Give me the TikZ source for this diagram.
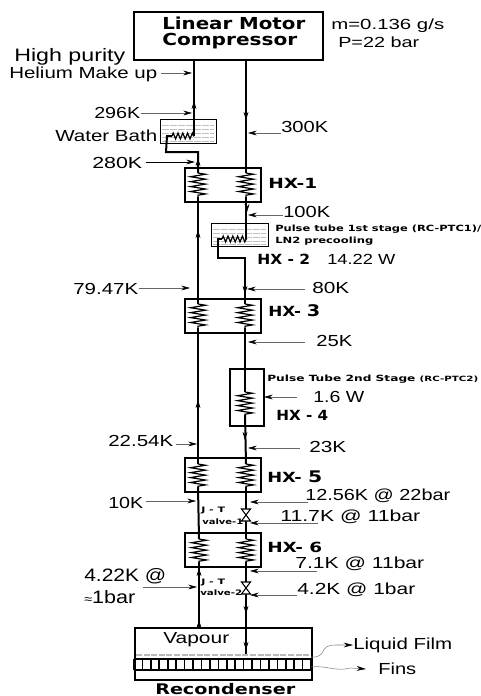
\documentclass[tikz,border=0pt]{standalone}
\usepackage{fontspec}
\setmainfont{Liberation Sans}
\newfontfamily\boldf{DejaVu Sans}[BoldFont={DejaVu Sans Bold}]
\usetikzlibrary{arrows.meta,decorations.pathmorphing,decorations.markings,calc}
\newdimen\pxu \pxu=0.75pt
\tikzset{
  x=0.75pt,y=-0.75pt,
  pipe/.style={line width=1.5pt,black},
  coilv/.style={line width=0.9pt,black,decorate,decoration={zigzag,segment length=3.7pt,amplitude=5.6pt}},
  coilh/.style={line width=0.9pt,black,decorate,decoration={zigzag,segment length=3.6pt,amplitude=2.2pt}},
  water/.style={gray!50,line width=0.6pt,dash pattern=on 5pt off 1pt},
  lbl/.style={gray!80!black,line width=0.4pt,-{Stealth[black,length=6.5pt,width=3.6pt]}},
  flow/.style={draw=none,postaction={decorate},decoration={markings,mark=at position #1 with {\arrow[black]{Stealth[length=6pt,width=3.6pt]}}}},
  txt/.style={inner sep=0pt,anchor=west,font=\fontsize{12}{13}\selectfont},
  big/.style={inner sep=0pt,anchor=west,font=\fontsize{13.5}{14}\selectfont},
  mid/.style={inner sep=0pt,anchor=west,font=\fontsize{11}{12}\selectfont},
  bold/.style={inner sep=0pt,anchor=west,font=\boldf\bfseries\fontsize{10.5}{11}\selectfont},
  head/.style={inner sep=0pt,anchor=west,font=\boldf\bfseries\fontsize{12.4}{13}\selectfont},
  tiny/.style={inner sep=0pt,anchor=west,font=\boldf\bfseries\fontsize{6.4}{7}\selectfont},
  jt/.style={inner sep=0pt,anchor=west,font=\boldf\bfseries\fontsize{5.6}{6}\selectfont},
  wavy/.style={gray,line width=0.4pt,-{Stealth[black,length=7pt,width=3.6pt]}},
  hx/.style={draw,line width=1.4pt,inner sep=0pt,minimum width=57pt,minimum height=25.5pt,anchor=north west}
}
% text of a given width in reference pixels
\newcommand{\fw}[2]{\resizebox{#1\pxu}{\height}{#2}}
\newcommand{\T}[6]{\node[#1] (#2) at (#3,#4) {\fw{#5}{#6}};}
\begin{document}
\begin{tikzpicture}
\useasboundingbox (0,0) rectangle (481,696);
% compressor
\node[draw,line width=1.4pt,inner sep=0pt,minimum width=141.75pt,minimum height=36pt,anchor=north west] (comp) at (133,11) {};
\T{head}{lm}{162}{23}{143}{Linear Motor}
\T{head}{cm}{162}{41}{135}{Compressor}
\T{mid}{mlab}{331}{26}{113}{m=0.136 g/s}
\T{mid}{plab}{338}{42}{81}{P=22 bar}
% boxes
\node[draw,line width=1.1pt,inner sep=0pt,minimum width=42pt,minimum height=18pt,anchor=north west] (bath) at (160,119) {};
\node[draw,line width=1.1pt,inner sep=0pt,minimum width=42.75pt,minimum height=17.25pt,anchor=north west] (tub) at (211,223) {};
\node[hx] (hx1) at (184,167) {};
\node[hx] (hx3) at (184,298) {};
\node[hx] (hx5) at (184,457) {};
\node[hx] (hx6) at (184,532) {};
\node[draw,line width=1.2pt,inner sep=0pt,minimum width=25.5pt,minimum height=42.75pt,anchor=north west] (hx4) at (229,368) {};
\node[draw,line width=1.2pt,inner sep=0pt,minimum width=132.75pt,minimum height=39pt,anchor=north west] (rec) at (134,627) {};
% water
\foreach \y in {125,129,133,137,141}{\draw[water] (162,\y) -- (214,\y);}
\foreach \y in {229,233,237,241,244}{\draw[water] (213,\y) -- (266,\y);}
% coordinates
\coordinate (lc1t) at (198,173); \coordinate (lc1b) at (198,197);
\coordinate (rc1t) at (246,173); \coordinate (rc1b) at (246,197);
\coordinate (lc3t) at (198,304); \coordinate (lc3b) at (198,328);
\coordinate (rc3t) at (245,304); \coordinate (rc3b) at (245,328);
\coordinate (c4t) at (245,392); \coordinate (c4b) at (245,415);
\coordinate (lc5t) at (198,464); \coordinate (lc5b) at (198,487);
\coordinate (rc5t) at (246,464); \coordinate (rc5b) at (246,487);
\coordinate (lc6t) at (199,539); \coordinate (lc6b) at (199,562);
\coordinate (rc6t) at (246,539); \coordinate (rc6b) at (246,562);
\coordinate (v1) at (246,515); \coordinate (v2) at (246,588);
% coils
\foreach \a/\b in {lc1t/lc1b,rc1t/rc1b,lc3t/lc3b,rc3t/rc3b,c4t/c4b,lc5t/lc5b,rc5t/rc5b,lc6t/lc6b,rc6t/rc6b}{\draw[coilv] (\a) -- (\b);}
\coordinate (wl) at (167,136); \coordinate (wr) at (194,136);
\draw[coilh] (172,136) -- (wr);
\coordinate (tl) at (218,239); \coordinate (tr) at (247,239);
\draw[coilh] (222,239) -- (tr);
% pipes
\draw[pipe] (wr) -- (194,59);
\draw[pipe] (172,136) -- (wl) -- (166,152) -- (198,152) -- (lc1t);
\draw[pipe] (246,59) -- (rc1t);
\draw[pipe] (rc1b) -- (246,239);
\draw[pipe] (222,239) -- (tl) -- (218,258) -- (245,258) -- (rc3t);
\draw[pipe] (lc1b) -- (lc3t);
\draw[pipe] (rc3b) -- (c4t);
\draw[pipe] (c4b) -- (rc5t);
\draw[pipe] (lc3b) -- (lc5t);
\draw[pipe] (lc5b) -- (lc6t);
\draw[pipe] (rc5b) -- (v1);
\draw[pipe] (v1) -- (rc6t);
\draw[pipe] (rc6b) -- (v2);
\draw[pipe] (v2) -- (246,655);
\draw[pipe] (199,562) -- (199,627);
% valves
\foreach \v in {v1,v2}{\draw[line width=0.8pt,fill=white] ($(\v)+(-4.5,-6)$) -- ($(\v)+(4.5,-6)$) -- ($(\v)+(-4.5,6)$) -- ($(\v)+(4.5,6)$) -- cycle;}
% flow arrowheads
\path[flow=1] (194,115) -- (194,101);
\path[flow=1] (198,170) -- (198,158);
\path[flow=1] (246,110) -- (246,120);
\path[flow=1] (247,202) -- (247,212);
\path[flow=1] (198,240) -- (198,230);
\path[flow=1] (245,285) -- (245,294);
\path[flow=1] (198,410) -- (198,400);
\path[flow=1] (245,430) -- (245,440);
\path[flow=1] (199,578) -- (199,568);
\path[flow=1] (246,604) -- (246,614);
\path[flow=1] (199,632) -- (199,620);
\path[flow=1] (246,640) -- (246,650);
% recondenser
\draw[gray!55,line width=1.6pt,dash pattern=on 4.5pt off 1.2pt] (136,655) -- (310,655);
\draw[line width=1.5pt] (134,659) -- (311,659);
\draw[line width=1.5pt] (134,670) -- (311,670);
\foreach \i in {0,...,21}{\draw[line width=1.2pt] ({134+\i*8.43},659) -- ({134+\i*8.43},670);}
\T{txt}{vap}{163}{640}{66}{Vapour}
\node[inner sep=0pt,anchor=west,font=\boldf\bfseries\fontsize{11}{12}\selectfont] (rlab) at (155,689) {\fw{140}{Recondenser}};
% liquid film, fins
\T{txt}{lf}{353}{645}{99}{Liquid Film}
\T{txt}{fi}{378}{669}{38}{Fins}
\coordinate (lfs) at (311,657); \coordinate (fis) at (311,667);
\draw[wavy] (lfs) .. controls (328,658) and (318,645) .. (335,645) -- (lf.west);
\draw[wavy] (fis) .. controls (326,665) and (336,672) .. (350,668) -- ($(fi.west)+(-12,0)$);
% labels left
\T{big}{hp}{14}{57}{111}{High purity}
\T{txt}{hm}{9}{74}{148}{Helium Make up}
\T{txt}{l296}{94}{113}{46}{296K}
\T{txt}{wb}{55}{136}{102}{Water Bath}
\T{txt}{l280}{92}{163}{50}{280K}
\T{txt}{l79}{73}{289}{65}{79.47K}
\T{txt}{l22}{108}{441}{65}{22.54K}
\T{txt}{l10}{108}{503}{35}{10K}
\T{big}{l4a}{84}{576}{82}{4.22K @}
\node[big] (l4b) at (84,597) {\fw{51}{{\fontsize{9}{10}\selectfont≈}1bar}};
\coordinate (hmp) at (192,73); \draw[lbl] ($(hm.east |- hmp)+(3,0)$) -- (hmp);
\coordinate (l296p) at (192,113); \draw[lbl] (l296.east |- l296p) -- (l296p);
\coordinate (l280p) at (195,162); \draw[black,line width=0.6pt,-{Stealth[black,length=6.5pt,width=3.6pt]}] ($(l280.east |- l280p)+(3,0)$) -- (l280p);
\coordinate (l79p) at (190,288); \draw[lbl] (l79.east |- l79p) -- (l79p);
\coordinate (l22p) at (197,444); \draw[lbl] ($(l22.east |- l22p)+(2,0)$) -- (l22p);
\coordinate (l10p) at (196,501); \draw[lbl] ($(l10.east |- l10p)+(2,0)$) -- (l10p);
\coordinate (l4p) at (197,587); \draw[lbl] (143,587) -- (l4p);
% labels right
\T{txt}{l300}{281}{127}{47}{300K}
\T{txt}{l100}{283}{212}{47}{100K}
\T{bold}{h1}{268}{183}{49}{HX-1}
\T{tiny}{pt1}{275}{229}{206}{Pulse tube 1st stage (RC-PTC1)/}
\T{tiny}{pt1b}{275}{241}{98}{LN2 precooling}
\T{bold}{h2}{257}{259}{53}{HX - 2}
\T{mid}{w14}{327}{259}{68}{14.22 W}
\T{txt}{l80}{312}{288}{37}{80K}
\node[bold] (h3) at (268,311) {\fw{52}{HX- {\fontsize{12}{12}\selectfont 3}}};
\T{txt}{l25}{316}{341}{36}{25K}
\node[tiny] (pt2) at (267,379) {\fw{211}{Pulse Tube 2nd Stage {\fontsize{5.4}{6}\selectfont(RC-PTC2)}}};
\T{txt}{l16}{313}{397}{51}{1.6 W}
\T{bold}{h4}{276}{415}{52}{HX - 4}
\T{txt}{l23}{309}{447}{37}{23K}
\node[bold] (h5) at (267,477) {\fw{55}{HX- {\fontsize{12}{12}\selectfont 5}}};
\T{txt}{l12}{305}{496}{145}{12.56K @ 22bar}
\T{txt}{l11}{280}{517}{140}{11.7K @ 11bar}
\T{bold}{h6}{267}{547}{55}{HX- 6}
\T{txt}{l7}{295}{564}{129}{7.1K @ 11bar}
\T{txt}{l42}{297}{590}{118}{4.2K @ 1bar}
\T{jt}{jt1a}{201}{511}{24}{J - T}
\T{jt}{jt1b}{202}{522}{41}{valve-1}
\T{jt}{jt2a}{201}{583}{24}{J - T}
\T{jt}{jt2b}{200}{593}{42}{valve-2}
\coordinate (l300p) at (248,133); \draw[lbl] (l300.west |- l300p) -- (l300p);
\coordinate (l100p) at (248,215); \draw[lbl] (l100.west |- l100p) -- (l100p);
\coordinate (l80p) at (247,289); \draw[lbl] ($(l80.west |- l80p)+(-7,0)$) -- (l80p);
\coordinate (l25p) at (248,342); \draw[lbl] ($(l25.west |- l25p)+(-11,0)$) -- (l25p);
\coordinate (l16p) at (264,397); \draw[lbl] ($(l16.west |- l16p)+(-16,0)$) -- (l16p);
\coordinate (l23p) at (248,448); \draw[lbl] ($(l23.west |- l23p)+(-9,0)$) -- (l23p);
\coordinate (l12p) at (250,502); \draw[lbl] ($(l12.west |- l12p)+(3,0)$) -- (l12p);
\coordinate (l11p) at (250,523); \draw[lbl] ($(l11.west |- l11p)+(38,0)$) -- (l11p);
\coordinate (l7p) at (250,571); \draw[lbl] ($(l7.west |- l7p)+(22,0)$) -- (l7p);
\coordinate (l42p) at (250,595); \draw[lbl] (l42.west |- l42p) -- (l42p);
\end{tikzpicture}
\end{document}
